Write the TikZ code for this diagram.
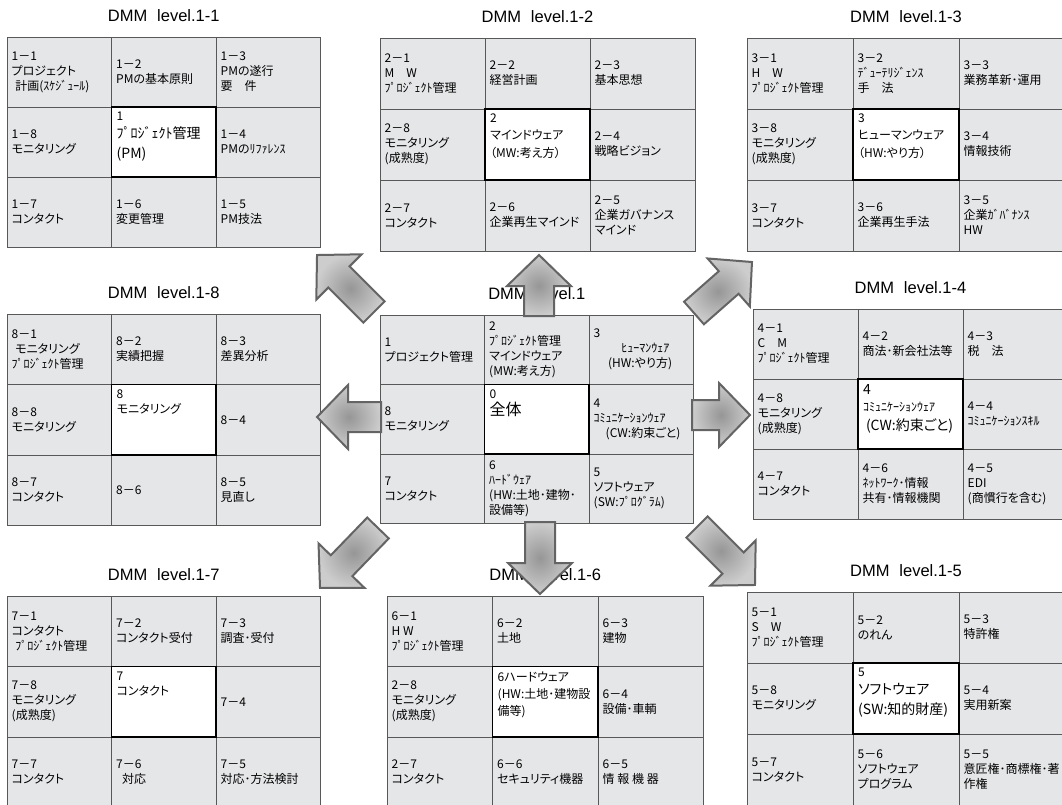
\documentclass[tikz,border=0pt]{standalone}
\usepackage{fontspec}
\setmainfont{Noto Sans CJK JP}[RawFeature=+palt]
\newfontfamily\titlefont{Liberation Sans}
\usetikzlibrary{calc,positioning}

\definecolor{cellfill}{RGB}{229,230,232}
\definecolor{cellline}{RGB}{88,88,88}
\definecolor{arrowline}{RGB}{100,100,100}
\definecolor{arrowin}{RGB}{150,150,150}
\definecolor{arrowout}{RGB}{205,205,205}

\newcommand{\bigtxt}{\fontsize{14}{17}\selectfont}

\tikzset{
  cell/.style={draw=cellline, fill=cellfill, line width=0.8pt, inner sep=0pt, outer sep=0pt, anchor=north west},
  corecell/.style={cell, fill=white},
  coreline/.style={draw=black, line width=1.4pt},
  celltext/.style={anchor=west, align=left, inner sep=4.5pt, font=\fontsize{12}{15}\selectfont},
  coretext/.style={celltext, anchor=north west, inner sep=5pt},
  gridtitle/.style={font=\titlefont\fontsize{16.5}{19}\selectfont, inner sep=0pt},
  bigarrow/.style={draw=arrowline, line width=2pt, line join=miter, inner color=arrowin, outer color=arrowout}
}

% one 3x3 block: name, left, top, cell width, cell height, title, texts
\newcommand{\dmmgrid}[7]{%
  \begin{scope}[shift={(#2,#3)}]
    \foreach \txt [count=\i from 0] in {#7}{
      \pgfmathtruncatemacro{\gr}{\i/3}
      \pgfmathtruncatemacro{\gc}{mod(\i,3)}
      \ifnum\i=4
        \node[corecell, minimum width=#4pt, minimum height=#5pt] (#1-\i) at (\gc*#4,\gr*#5) {};
        \node[coretext] (#1-t\i) at (#1-\i.north west) {\txt};
      \else
        \node[cell, minimum width=#4pt, minimum height=#5pt] (#1-\i) at (\gc*#4,\gr*#5) {};
        \node[celltext] (#1-t\i) at (#1-\i.west) {\txt};
      \fi
    }
    \draw[coreline] (#1-4.north west) rectangle (#1-4.south east);
    \node[gridtitle, above=15pt of #1-1] (#1-title) {#6};
  \end{scope}}

% block arrow from base to tip
\newcommand{\blockarrow}[2]{%
  \path[bigarrow] let \p1=($(#2)-(#1)$), \n1={veclen(\x1,\y1)}, \n2={atan2(\y1,\x1)} in
    [shift={(#1)}, rotate=\n2]
    (0pt,-15pt) -- (\n1-31pt,-15pt) -- (\n1-31pt,-32pt) -- (\n1,0pt) -- (\n1-31pt,32pt) -- (\n1-31pt,15pt) -- (0pt,15pt) -- cycle;}

\begin{document}
\begin{tikzpicture}[x=1pt,y=-1pt]
\useasboundingbox (0,0) rectangle (1062,805);
\fill[white] (0,0) rectangle (1062,805);
\clip (0,0) rectangle (1062,805);

\dmmgrid{g11}{7}{37}{104.5}{70}{DMM\hspace{0.6em}level.1-1}{
  {1－1\\プロジェクト\\\hspace{0.3em}計画(ｽｹｼﾞｭｰﾙ)},
  {1－2\\PMの基本原則},
  {1－3\\PMの遂行\\要　件},
  {1－8\\モニタリング},
  {1\\[3pt]{\bigtxt ﾌﾟﾛｼﾞｪｸﾄ管理}\\[5pt]{\bigtxt (PM)}},
  {1－4\\PMのﾘﾌｧﾚﾝｽ},
  {1－7\\コンタクト},
  {1－6\\変更管理},
  {1－5\\PM技法}}

\dmmgrid{g12}{380}{38}{105}{71}{DMM\hspace{0.6em}level.1-2}{
  {2－1\\M　W\\ﾌﾟﾛｼﾞｪｸﾄ管理},
  {2－2\\経営計画},
  {2－3\\基本思想},
  {2－8\\モニタリング\\(成熟度)},
  {2\\[2pt]マインドウェア\\[3pt]（MW:考え方）},
  {2－4\\戦略ビジョン},
  {2－7\\コンタクト},
  {2－6\\企業再生マインド},
  {2－5\\企業ガバナンス\\マインド}}

\dmmgrid{g13}{747}{38}{106}{71}{DMM\hspace{0.6em}level.1-3}{
  {3－1\\H　W\\ﾌﾟﾛｼﾞｪｸﾄ管理},
  {3－2\\ﾃﾞｭｰﾃﾘｼﾞｪﾝｽ\\手　法},
  {3－3\\業務革新･運用},
  {3－8\\モニタリング\\(成熟度)},
  {3\\[2pt]ヒューマンウェア\\[3pt]（HW:やり方）},
  {3－4\\情報技術},
  {3－7\\コンタクト},
  {3－6\\企業再生手法},
  {3－5\\企業ｶﾞﾊﾞﾅﾝｽ\\HW}}

\dmmgrid{g18}{7}{314}{104.5}{70.5}{DMM\hspace{0.6em}level.1-8}{
  {8－1\\\hspace{0.3em}モニタリング\\ﾌﾟﾛｼﾞｪｸﾄ管理},
  {8－2\\実績把握},
  {8－3\\差異分析},
  {8－8\\モニタリング},
  {8\\モニタリング},
  {8－4},
  {8－7\\コンタクト},
  {8－6},
  {8－5\\見直し}}

\dmmgrid{g0}{380}{315}{104.5}{69.5}{DMM\hspace{0.6em}level.1}{
  {1\\プロジェクト管理},
  {2\\ﾌﾟﾛｼﾞｪｸﾄ管理\\マインドウェア\\(MW:考え方)},
  {3\\\hspace{2.3em}ﾋｭｰﾏﾝｳｪｱ\\\hspace{1.2em}(HW:やり方)},
  {8\\モニタリング},
  {0\\[2pt]{\fontsize{16}{18}\selectfont 全体}},
  {4\\ｺﾐｭﾆｹｰｼｮﾝｳｪｱ\\\hspace{1em}(CW:約束ごと)},
  {7\\コンタクト},
  {6\\ﾊｰﾄﾞｳｪｱ\\(HW:土地･建物･\\設備等)},
  {5\\ソフトウェア\\(SW:ﾌﾟﾛｸﾞﾗﾑ)}}

\dmmgrid{g14}{753}{309}{105}{70}{DMM\hspace{0.6em}level.1-4}{
  {4－1\\C　M\\ﾌﾟﾛｼﾞｪｸﾄ管理},
  {4－2\\商法･新会社法等},
  {4－3\\税　法},
  {4－8\\モニタリング\\(成熟度)},
  {{\bigtxt 4}\\[2pt]ｺﾐｭﾆｹｰｼｮﾝｳｪｱ\\[4pt]{\bigtxt\hspace{0.2em}(CW:約束ごと)}},
  {4－4\\ｺﾐｭﾆｹｰｼｮﾝｽｷﾙ},
  {4－7\\コンタクト},
  {4－6\\ﾈｯﾄﾜｰｸ･情報\\共有･情報機関},
  {4－5\\EDI\\(商慣行を含む)}}

\dmmgrid{g17}{7}{596}{104.5}{70.5}{DMM\hspace{0.6em}level.1-7}{
  {7－1\\コンタクト\\\hspace{0.3em}ﾌﾟﾛｼﾞｪｸﾄ管理},
  {7－2\\コンタクト受付},
  {7－3\\調査･受付},
  {7－8\\モニタリング\\(成熟度)},
  {7\\コンタクト},
  {7－4},
  {7－7\\コンタクト},
  {7－6\\\hspace{0.5em}対応},
  {7－5\\対応･方法検討}}

\dmmgrid{g16}{387}{596}{105.5}{70.5}{DMM\hspace{0.6em}level.1-6}{
  {6－1\\H W\\ﾌﾟﾛｼﾞｪｸﾄ管理},
  {6－2\\土地},
  {6－3\\建物},
  {2－8\\モニタリング\\(成熟度)},
  {6ハードウェア\\[2pt](HW:土地･建物設\\[2pt]備等)},
  {6－4\\設備･車輌},
  {2－7\\コンタクト},
  {6－6\\セキュリティ機器},
  {6－5\\情 報 機 器}}

\dmmgrid{g15}{747}{592}{106}{71}{DMM\hspace{0.6em}level.1-5}{
  {5－1\\S　W\\ﾌﾟﾛｼﾞｪｸﾄ管理},
  {5－2\\のれん},
  {5－3\\特許権},
  {5－8\\モニタリング},
  {5\\[3pt]{\bigtxt ソフトウェア}\\[5pt]{\bigtxt (SW:知的財産)}},
  {5－4\\実用新案},
  {5－7\\コンタクト},
  {5－6\\ソフトウェア\\プログラム},
  {5－5\\意匠権･商標権･著\\作権}}

% arrows out of the centre block
\coordinate (nw-b) at (374,312); \coordinate (nw-t) at (317,255);
\coordinate (up-b) at (539,316); \coordinate (up-t) at (539,255);
\coordinate (ne-b) at (694,313); \coordinate (ne-t) at (752,262);
\coordinate (lf-b) at (381,417); \coordinate (lf-t) at (317,417);
\coordinate (rt-b) at (692,415); \coordinate (rt-t) at (750,415);
\coordinate (sw-b) at (378,528); \coordinate (sw-t) at (320,588);
\coordinate (dn-b) at (540,522); \coordinate (dn-t) at (540,594);
\coordinate (se-b) at (697,527); \coordinate (se-t) at (755,585);
\blockarrow{nw-b}{nw-t}
\blockarrow{up-b}{up-t}
\blockarrow{ne-b}{ne-t}
\blockarrow{lf-b}{lf-t}
\blockarrow{rt-b}{rt-t}
\blockarrow{sw-b}{sw-t}
\blockarrow{dn-b}{dn-t}
\blockarrow{se-b}{se-t}
\end{tikzpicture}
\end{document}
